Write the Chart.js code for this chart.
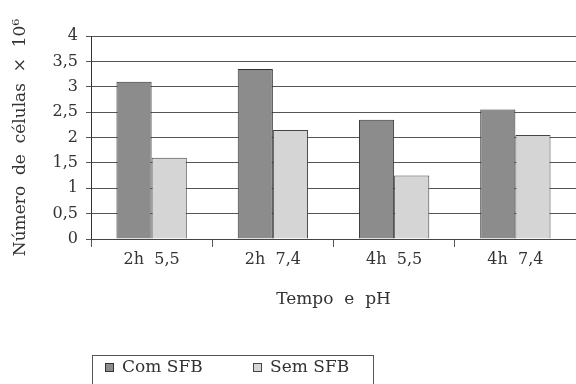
<!DOCTYPE html>
<html>
<head>
<meta charset="utf-8">
<script src="https://cdn.jsdelivr.net/npm/chart.js@4.4.0/dist/chart.umd.min.js"></script>
<style>
    html, body { margin: 0; padding: 0; background: #fff; }
    #wrap { width: 576px; height: 384px; position: relative; }
</style>
</head>
<body>
<div id="wrap"><canvas id="chart"></canvas></div>
<script>
// --- Dados ---
const categories = ['2h  5,5', '2h  7,4', '4h  5,5', '4h  7,4'];
const comSFB = [3.1, 3.35, 2.35, 2.55];
const semSFB = [1.6, 2.15, 1.25, 2.05];
const yMin = 0;
const yMax = 4;
const yStep = 0.5;

const serif = '"DejaVu Serif", "Liberation Serif", serif';
const textColor = '#333';

// Legenda com moldura, desenhada abaixo do título do eixo x
const boxLegend = {
    id: 'boxLegend',
    afterDraw(chart) {
        const { ctx, chartArea } = chart;
        const left = chartArea.left + 1;
        const top = chartArea.bottom + 116;
        ctx.save();
        ctx.strokeStyle = '#555';
        ctx.lineWidth = 1;
        ctx.strokeRect(left + 0.5, top + 0.5, 281, 40);
        ctx.font = '17px ' + serif;
        ctx.textBaseline = 'middle';
        chart.data.datasets.forEach((ds, i) => {
            const x = left + 13 + i * 148;
            const y = top + 12;
            ctx.fillStyle = ds.backgroundColor;
            ctx.fillRect(x, y - 4, 8, 8);
            ctx.strokeStyle = ds.borderColor;
            ctx.strokeRect(x + 0.5, y - 3.5, 8, 8);
            ctx.fillStyle = textColor;
            ctx.fillText(ds.label, x + 17, y + 1);
        });
        ctx.restore();
    }
};

new Chart(document.getElementById('chart'), {
    type: 'bar',
    data: {
        labels: categories,
        datasets: [
            {
                label: 'Com SFB',
                data: comSFB,
                backgroundColor: '#8c8c8c',
                borderColor: '#333',
                borderWidth: 1,
                barPercentage: 1,
                categoryPercentage: 0.58
            },
            {
                label: 'Sem SFB',
                data: semSFB,
                backgroundColor: '#d5d5d5',
                borderColor: '#444',
                borderWidth: 1,
                barPercentage: 1,
                categoryPercentage: 0.58
            }
        ]
    },
    options: {
        responsive: true,
        maintainAspectRatio: false,
        animation: false,
        layout: { padding: { top: 36, left: 0, right: 0, bottom: 0 } },
        plugins: {
            legend: { display: false },
            tooltip: { enabled: false }
        },
        scales: {
            y: {
                min: yMin,
                max: yMax,
                afterFit(scale) { scale.width = 91; },
                ticks: {
                    stepSize: yStep,
                    padding: 8,
                    color: textColor,
                    font: { family: serif, size: 16 },
                    callback: v => String(v).replace('.', ',')
                },
                grid: { color: '#555', tickLength: 5 },
                border: { color: '#333' },
                title: {
                    display: true,
                    text: 'Número  de  células  ×  10⁶',
                    color: textColor,
                    font: { family: serif, size: 17 },
                    padding: { top: 10, bottom: 0 }
                }
            },
            x: {
                afterFit(scale) { scale.height = 145; },
                ticks: {
                    padding: 3,
                    color: textColor,
                    font: { family: serif, size: 16 }
                },
                grid: { drawOnChartArea: false, color: '#555', tickLength: 8 },
                border: { color: '#444' },
                title: {
                    display: true,
                    text: 'Tempo  e  pH',
                    color: textColor,
                    font: { family: serif, size: 17 },
                    padding: { top: 0, bottom: 74 }
                }
            }
        }
    },
    plugins: [boxLegend]
});
</script>
</body>
</html>
